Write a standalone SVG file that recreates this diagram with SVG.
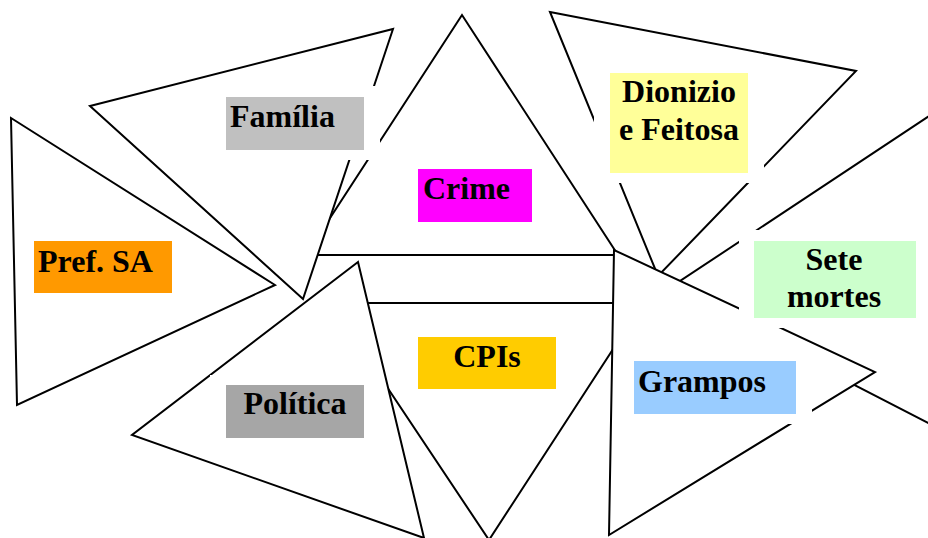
<svg xmlns="http://www.w3.org/2000/svg" width="928" height="538" viewBox="0 0 928 538">
<style>
.tri{fill:#ffffff;stroke:#000000;stroke-width:2;stroke-linejoin:miter}
.pad{fill:#ffffff}
.lbl{font-family:"Liberation Serif","Times New Roman",serif;font-weight:bold;font-size:32px;fill:#000000}
.mid{text-anchor:middle}
</style>
<rect width="928" height="538" fill="#ffffff"/>
<g id="triangles">
  <polygon id="tri-crime" class="tri" points="462,15 306,255 618,255"/>
  <polygon id="tri-familia" class="tri" points="90,106 393,29 303,299"/>
  <polygon id="tri-pref" class="tri" points="11,118 17,405 275,285"/>
  <polygon id="tri-dionizio" class="tri" points="550,12 856,71 658,276"/>
  <polygon id="tri-sete" class="tri" points="1000,69 668,289 1000,460"/>
  <polygon id="tri-cpis" class="tri" points="331,303 643,303 489,540"/>
  <polygon id="tri-politica" class="tri" points="358,262 132,435 424,538"/>
  <polygon id="tri-grampos" class="tri" points="614,250 609,535 875,372"/>
</g>
<g id="familia">
  <rect class="pad" x="210" y="86" width="170" height="74"/>
  <rect x="226" y="97" width="138" height="53" fill="#C0C0C0"/>
  <text class="lbl" x="230" y="127">Família</text>
</g>
<g id="crime">
  <rect class="pad" x="402" y="159" width="146" height="73"/>
  <rect x="418" y="169" width="114" height="53" fill="#FF00FF"/>
  <text class="lbl" x="423" y="199">Crime</text>
</g>
<g id="dionizio">
  <rect class="pad" x="594" y="63" width="170" height="120"/>
  <rect x="610" y="73" width="138" height="100" fill="#FFFF99"/>
  <text class="lbl mid" x="679" y="102">Dionizio</text>
  <text class="lbl mid" x="679" y="140">e Feitosa</text>
</g>
<g id="pref">
  <rect class="pad" x="18" y="231" width="170" height="72"/>
  <rect x="34" y="241" width="138" height="52" fill="#FF9900"/>
  <text class="lbl" x="38" y="272">Pref. SA</text>
</g>
<g id="sete">
  <rect class="pad" x="739" y="230" width="192" height="98"/>
  <rect x="754" y="241" width="162" height="77" fill="#CCFFCC"/>
  <text class="lbl mid" x="834" y="270">Sete</text>
  <text class="lbl mid" x="834" y="307">mortes</text>
</g>
<g id="cpis">
  <rect class="pad" x="402" y="327" width="170" height="72"/>
  <rect x="418" y="337" width="138" height="52" fill="#FFCC00"/>
  <text class="lbl mid" x="487" y="367">CPIs</text>
</g>
<g id="politica">
  <rect class="pad" x="210" y="375" width="170" height="73"/>
  <rect x="226" y="385" width="138" height="53" fill="#A6A6A6"/>
  <text class="lbl mid" x="295" y="414">Política</text>
</g>
<g id="grampos">
  <rect class="pad" x="618" y="351" width="194" height="73"/>
  <rect x="634" y="361" width="162" height="53" fill="#99CCFF"/>
  <text class="lbl" x="638" y="392">Grampos</text>
</g>
</svg>
